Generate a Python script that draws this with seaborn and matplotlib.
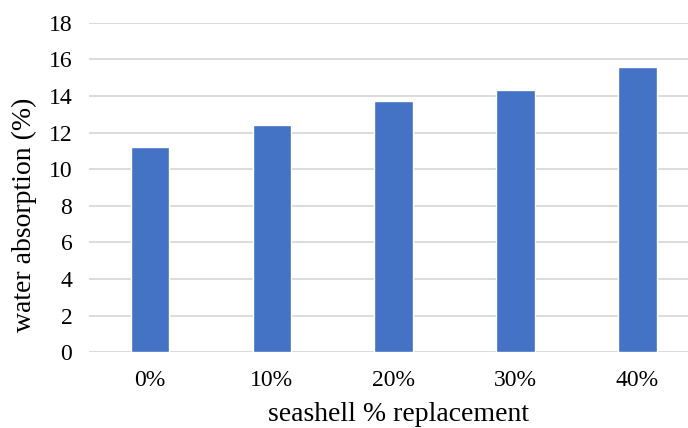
import matplotlib
matplotlib.use("Agg")
import matplotlib.pyplot as plt
import seaborn as sns
import pandas as pd

categories = ["0%", "10%", "20%", "30%", "40%"]
absorption = [11.2, 12.4, 13.7, 14.3, 15.6]
y_ticks = [0, 2, 4, 6, 8, 10, 12, 14, 16, 18]

sns.set_theme(style="white")
plt.rcParams["font.family"] = ["Liberation Serif", "DejaVu Serif"]

df = pd.DataFrame({"replacement": categories, "absorption": absorption})

fig = plt.figure(figsize=(6.88, 4.28), dpi=100)
ax = fig.add_axes([0.1294, 0.177, 0.8706, 0.770])

sns.barplot(data=df, x="replacement", y="absorption", color="#4472C4",
            saturation=1, width=0.317, ax=ax, zorder=3)

ax.set_ylim(0, 18)
ax.set_yticks(y_ticks)
ax.set_xlim(-0.5, 4.414)
ax.yaxis.grid(True, color="#d9d9d9", linewidth=1.3, zorder=0)
ax.set_axisbelow(True)
for s in ax.spines.values():
    s.set_visible(False)
ax.tick_params(axis="both", length=0, labelsize=17, colors="#000000")
ax.tick_params(axis="y", pad=12)
ax.tick_params(axis="x", pad=13)

ax.set_xlabel("seashell % replacement", fontsize=20, color="#000000")
ax.set_ylabel("water absorption (%)", fontsize=20, color="#000000")
ax.xaxis.label.set_va("center")
ax.yaxis.label.set_va("center")
ax.xaxis.set_label_coords(0.516, -0.190)
ax.yaxis.set_label_coords(-0.1085, 0.418)

fig.savefig("out.png", dpi=100)
